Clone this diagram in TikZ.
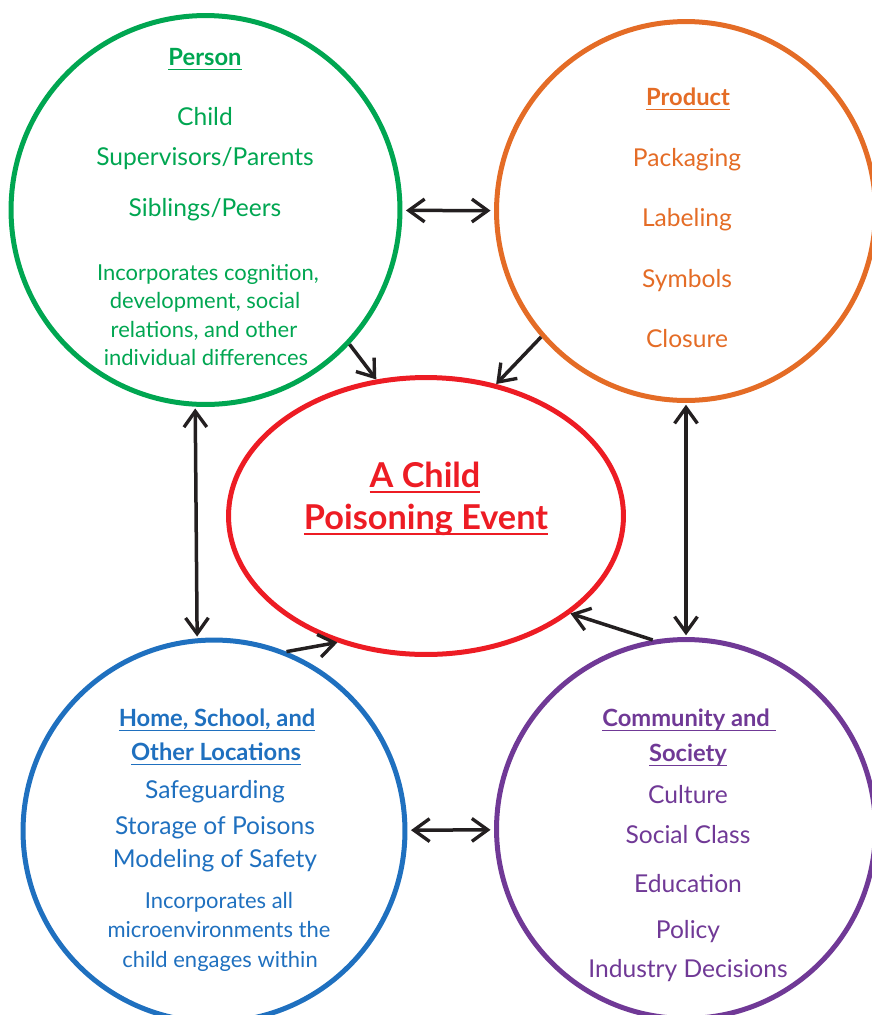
\documentclass[tikz,border=0pt]{standalone}
\usepackage{fontspec}
\setmainfont{Lato}
\usepackage{tikz}
\usetikzlibrary{arrows.meta,shapes.geometric}
\newcommand\ulin[2][1.1pt]{\setbox0=\hbox{#2}\leavevmode
  \rlap{\vrule width\wd0 height -2pt depth \dimexpr2pt+#1\relax}\box0}
\definecolor{pgreen}{RGB}{0,166,81}
\definecolor{porange}{RGB}{228,108,38}
\definecolor{pred}{RGB}{237,28,36}
\definecolor{pblue}{RGB}{31,112,191}
\definecolor{ppurple}{RGB}{112,57,150}
\definecolor{pink}{RGB}{35,31,32}
\tikzstyle{ring}=[circle,line width=.1cm,inner sep=0pt]
\tikzstyle{event}=[ellipse,draw=pred,line width=.1cm,inner sep=0pt,
  			  minimum width=7.9cm,minimum height=5.54cm]
\tikzstyle{head}=[anchor=base,font=\fontsize{13.5}{15}\selectfont\bfseries]
\tikzstyle{item}=[anchor=base,font=\fontsize{14}{16}\selectfont]
\tikzstyle{note}=[anchor=base,font=\fontsize{12.5}{14}\selectfont]
\tikzstyle{link}=[pink,line width=.07cm]

\begin{document}
\begin{tikzpicture}[x=.02cm,y=-.02cm,>={Straight Barb[length=9pt,width=13pt,line width=1.9pt]},
                    font=\fontsize{13}{15}\selectfont]

  \useasboundingbox (0,0) rectangle (872,1015);

	\node[ring,draw=pgreen,minimum size=7.78cm] (person) at (205.5,210) {};
	\node[ring,draw=porange,minimum size=7.58cm] (product) at (686,211) {};
	\node[ring,draw=pblue,minimum size=7.64cm] (home) at (214,831) {};
	\node[ring,draw=ppurple,minimum size=7.58cm] (community) at (686,829) {};
	\node[event] (event) at (426,516) {};

	% person
	\node[head,pgreen] (personT) at (205,65) {\ulin{Person}};
	\node[item,pgreen] (p1) at (205,125) {Child};
	\node[item,pgreen] (p2) at (205,165) {Supervisors/Parents};
	\node[item,pgreen] (p3) at (205,216) {Siblings/Peers};
	\node[note,pgreen] (p4) at (208,280) {Incorporates cognition,};
	\node[note,pgreen] (p5) at (205,308) {development, social};
	\node[note,pgreen] (p6) at (204,337) {relations, and other};
	\node[note,pgreen] (p7) at (206,365) {individual differences};

	% product
	\node[head,porange] (productT) at (688,105) {\ulin{Product}};
	\node[item,porange] (r1) at (687,166) {Packaging};
	\node[item,porange] (r2) at (687,226) {Labeling};
	\node[item,porange] (r3) at (687,287) {Symbols};
	\node[item,porange] (r4) at (687,347) {Closure};

	% event
	\node[anchor=base,pred,font=\fontsize{19.5}{22}\selectfont\bfseries] (e1) at (425,487) {\ulin[1.6pt]{A Child}};
	\node[anchor=base,pred,font=\fontsize{19.5}{22}\selectfont\bfseries] (e2) at (426,529) {\ulin[1.6pt]{Poisoning Event}};

	% home
	\node[head,pblue] (homeT) at (217,726) {\ulin{Home, School, and}};
	\node[head,pblue] (homeU) at (216,760) {\ulin{Other Locations}};
	\node[item,pblue] (h1) at (215,798) {Safeguarding};
	\node[item,pblue] (h2) at (215,834) {Storage of Poisons};
	\node[item,pblue] (h3) at (215,867) {Modeling of Safety};
	\node[note,pblue] (h4) at (219,908) {Incorporates all};
	\node[note,pblue] (h5) at (219,937) {microenvironments the};
	\node[note,pblue] (h6) at (220,967) {child engages within};

	% community
	\node[head,ppurple] (communityT) at (689,726) {\ulin{Community and\ }};
	\node[head,ppurple] (communityU) at (688,761) {\ulin{Society}};
	\node[item,ppurple] (c1) at (688,803) {Culture};
	\node[item,ppurple] (c2) at (688,843) {Social Class};
	\node[item,ppurple] (c3) at (688,892) {Education};
	\node[item,ppurple] (c4) at (688,938) {Policy};
	\node[item,ppurple] (c5) at (688,977) {Industry Decisions};

  \draw[link,<->,shorten <=2pt,shorten >=2pt] (person) -- (product);
  \draw[link,<->,shorten <=2pt,shorten >=2pt] (home) -- (community);
  \draw[link,<->,shorten <=1pt,shorten >=1pt] (person.267) -- (home.95);
  \draw[link,<->,shorten <=1pt,shorten >=1pt] (product.south) -- (community.north);
  \draw[link,->] (person.-43) -- (event.110);
  \draw[link,->] (product.221) -- (event.62);
  \draw[link,->] (home.68) -- (event.235);
  \draw[link,->] (community.100) -- (event.-34);
\end{tikzpicture}
\end{document}
